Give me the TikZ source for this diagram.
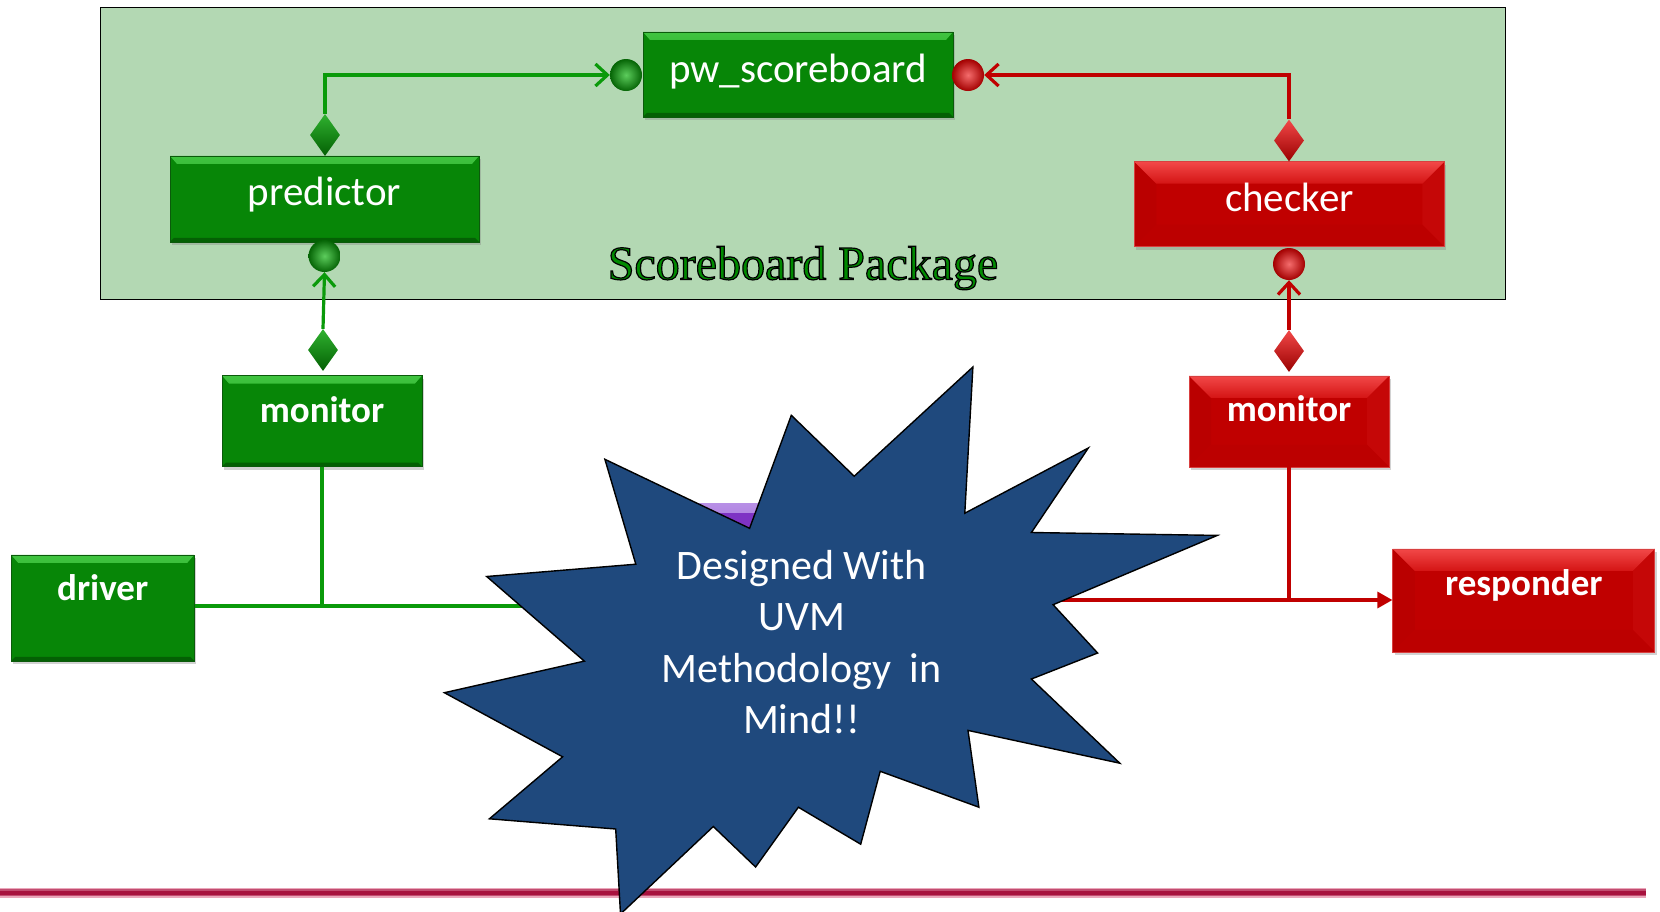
\documentclass[tikz,border=0pt]{standalone}
\usepackage{fontspec}
\setmainfont{Carlito}
\newfontfamily\pkgserif{Liberation Serif}
\usetikzlibrary{shapes.geometric,arrows.meta,shadows,calc}

\definecolor{pkgbg}{HTML}{B3D8B3}
\definecolor{gmain}{HTML}{078607}
\definecolor{gtop}{HTML}{40C440}
\definecolor{gbot}{HTML}{046004}
\definecolor{gedge}{HTML}{0B5A0B}
\definecolor{gwirec}{HTML}{0A9A0A}
\definecolor{rmain}{HTML}{C00000}
\definecolor{rtop}{HTML}{F24848}
\definecolor{rtopb}{HTML}{D41414}
\definecolor{rleft}{HTML}{BA0000}
\definecolor{rright}{HTML}{C50707}
\definecolor{rbot}{HTML}{BC0000}
\definecolor{rrim}{HTML}{D84040}
\definecolor{rwirec}{HTML}{C00000}
\definecolor{starblue}{HTML}{1F497D}
\definecolor{pmain}{HTML}{7E33C4}
\definecolor{ptop}{HTML}{B890E6}
\definecolor{crimson}{HTML}{A8123E}
\definecolor{crimsonsoft}{HTML}{EAA6BA}
\definecolor{sbgreen}{HTML}{008A00}

% fill-and-stroke text: green letters with a thin black outline
\newcommand\outlinetext[1]{\special{pdf:literal direct 2 Tr 0 0 0 RG 1.2 w}#1\special{pdf:literal direct 0 Tr}}

\tikzset{
  gbevel/.style={path picture={
      \shade[top color=gtop, bottom color=gmain]
        (path picture bounding box.north west) -- (path picture bounding box.north east)
        -- ([shift={(-7pt,-8pt)}]path picture bounding box.north east)
        -- ([shift={(7pt,-8pt)}]path picture bounding box.north west) -- cycle;
      \fill[gbot]
        (path picture bounding box.south west) -- (path picture bounding box.south east)
        -- ([shift={(-4pt,4pt)}]path picture bounding box.south east)
        -- ([shift={(4pt,4pt)}]path picture bounding box.south west) -- cycle;}},
  gbox/.style={rectangle, inner sep=0pt, fill=gmain, draw=gedge, line width=0.8pt,
      text=white, gbevel, drop shadow={opacity=0.35, shadow xshift=2pt, shadow yshift=-3pt}},
  rbevel/.style={path picture={
      \fill[rleft]
        (path picture bounding box.north west) -- ([shift={(22pt,-22pt)}]path picture bounding box.north west)
        -- ([shift={(22pt,22pt)}]path picture bounding box.south west) -- (path picture bounding box.south west) -- cycle;
      \fill[rright]
        (path picture bounding box.north east) -- ([shift={(-22pt,-22pt)}]path picture bounding box.north east)
        -- ([shift={(-22pt,22pt)}]path picture bounding box.south east) -- (path picture bounding box.south east) -- cycle;
      \fill[rbot]
        (path picture bounding box.south west) -- (path picture bounding box.south east)
        -- ([shift={(-22pt,22pt)}]path picture bounding box.south east)
        -- ([shift={(22pt,22pt)}]path picture bounding box.south west) -- cycle;
      \shade[top color=rtop, bottom color=rtopb]
        (path picture bounding box.north west) -- (path picture bounding box.north east)
        -- ([shift={(-22pt,-22pt)}]path picture bounding box.north east)
        -- ([shift={(22pt,-22pt)}]path picture bounding box.north west) -- cycle;}},
  rbox/.style={rectangle, inner sep=0pt, fill=rmain, draw=rrim, line width=0.8pt,
      text=white, rbevel, drop shadow={opacity=0.35, shadow xshift=2pt, shadow yshift=-3pt}},
  regular/.style={font=\fontsize{41}{49}\selectfont},
  heavy/.style={font=\bfseries\fontsize{37}{44}\selectfont},
  port/.style={circle, inner sep=0pt, minimum size=32pt, shading=radial},
  gport/.style={port, inner color=gtop!85!white, outer color=gmain!75!black},
  rport/.style={port, inner color=rtop!80!white, outer color=rmain!85!black},
  socket/.style={diamond, inner sep=0pt, minimum width=30pt, minimum height=42pt},
  gsocket/.style={socket, top color=gtop!70!gmain, bottom color=gbot},
  rsocket/.style={socket, top color=rtop, bottom color=rmain!80!black},
  gwire/.style={draw=gwirec, line width=3.2pt},
  rwire/.style={draw=rwirec, line width=3.2pt},
  barb/.style={-{Straight Barb[length=12pt,width=22pt]}},
}

\begin{document}
\begin{tikzpicture}[x=1pt,y=-1pt]
\useasboundingbox[fill=white] (0,0) rectangle (1660,911);

% package frame
\node (pkg) [draw=black, line width=1.6pt, fill=pkgbg, inner sep=0pt,
  minimum width=1405pt, minimum height=292pt] at (803,153.5) {};
\node (pkgtitle) [anchor=base, text=sbgreen, font=\pkgserif\fontsize{48}{56}\selectfont]
  at (803,279.5) {\outlinetext{Scoreboard Package}};

% scoreboard, predictor, checker
\node (pw) [gbox, regular, minimum width=310pt, minimum height=85pt,
  text height=30pt, text depth=14pt] at (798,74.4) {pw\_scoreboard};
\node (pwin) [gport] at (626,75) {};
\node (pwout) [rport] at (968,75) {};

\node (pred) [gbox, regular, minimum width=309pt, minimum height=86pt,
  text height=30pt, text depth=17.8pt] at (324.5,198.9) {predictor};
\node (pd) [gsocket] at (325,135) {};
\node (pout) [gport] at (324.5,256) {};

\node (chk) [rbox, regular, minimum width=310pt, minimum height=85pt,
  text height=30pt, text depth=15pt] at (1289.4,204.2) {checker};
\node (cd) [rsocket] at (1289,140.5) {};
\node (cout) [rport] at (1289,264) {};

\draw[gwire, barb] (pd.north) |- (pwin.west);
\draw[rwire, barb] (cd.north) |- (pwout.east);

% monitors, driver, responder
\node (gmon) [gbox, heavy, minimum width=200pt, minimum height=91pt,
  text height=27pt, text depth=25pt] at (322,421) {monitor};
\node (gmd) [gsocket] at (323,350) {};
\draw[gwire, barb] (gmd.north) -- (pout.south);

\node (rmon) [rbox, heavy, minimum width=200pt, minimum height=91pt,
  text height=27pt, text depth=26pt] at (1289,421.4) {monitor};
\node (rmd) [rsocket] at (1289,351) {};
\draw[rwire, barb] (rmd.north) -- (cout.south);

\node (drv) [gbox, heavy, minimum width=183pt, minimum height=106pt,
  text height=27pt, text depth=41pt] at (102.7,607.9) {driver};
\node (resp) [rbox, heavy, minimum width=262pt, minimum height=103pt,
  text height=27pt, text depth=36.5pt] at (1523.8,600.4) {responder};

\coordinate (gend) at (600,606);
\coordinate (rstart) at (1030,600);
\draw[gwire, line width=3.6pt] (gend -| drv.east) -- (gend);
\draw[gwire, line width=3.6pt] (gmon.south) -- (gmon.south |- gend);
\draw[rwire, -{Triangle[length=15pt,width=16pt]}] (rstart) -- (rstart -| resp.west);
\draw[rwire] (rmon.south) -- (rmon.south |- rstart);

% box partly hidden behind the burst
\node (pbox) [rectangle, inner sep=0pt, fill=pmain, minimum width=320pt, minimum height=100pt,
  path picture={\shade[top color=ptop, bottom color=pmain]
    (path picture bounding box.north west) rectangle ([yshift=-9pt]path picture bounding box.north east);}]
  at (800,553) {};

% rule along the bottom
\draw[crimsonsoft, line width=10pt] (0,892.7) -- (1646,892.7);
\draw[crimson!60!crimsonsoft, line width=7pt] (0,892.7) -- (1646,892.7);
\draw[crimson, line width=4pt] (0,892.7) -- (1646,892.7);

% burst
\filldraw[fill=starblue, draw=black, line width=1.4pt, line join=miter]
  (972.9,367.0) -- (964.8,513.2) -- (1088.3,448.0) -- (1031.4,532.5) -- (1217.3,535.4)
  -- (1053.1,604.7) -- (1097.6,653.0) -- (1031.4,679.0) -- (1119.8,763.2) -- (968.0,730.4)
  -- (978.9,807.2) -- (880.2,771.3) -- (860.7,844.2) -- (798.4,807.2) -- (755.6,867.0)
  -- (713.3,826.5) -- (620.5,914) -- (615.7,829.0) -- (489.4,818.8) -- (562.6,756.8)
  -- (444.4,692.7) -- (584.3,661.1) -- (486.7,576.5) -- (635.8,564.2) -- (604.9,459.3)
  -- (749.6,528.3) -- (791.3,415.3) -- (854.2,476.2) -- cycle;
\node (slogan) [text=white, align=center, font=\fontsize{42}{51.4}\selectfont] at (801.6,642)
  {Designed With\\UVM\\Methodology~~in\\Mind!!};
\end{tikzpicture}
\end{document}
